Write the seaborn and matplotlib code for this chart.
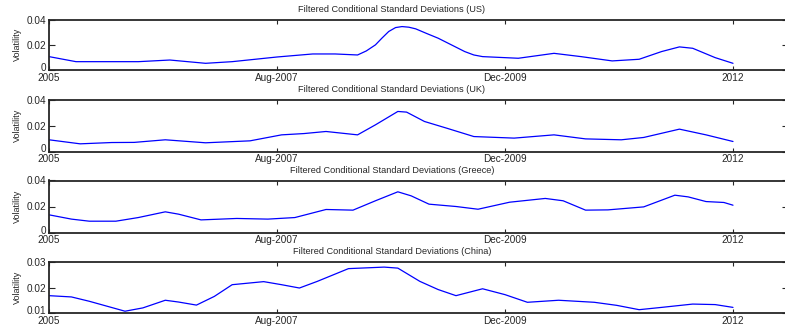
import numpy as np
import pandas as pd
import matplotlib
matplotlib.use("Agg")
import matplotlib.pyplot as plt
import matplotlib.transforms as mtransforms
import seaborn as sns

# x positions are observation indices; ticks every 600 obs
tick_pos = [0, 600, 1200, 1800]
tick_labels = ["2005", "Aug-2007", "Dec-2009", "2012"]

us_x = [0, 71, 165, 235, 318, 412, 482, 600, 694, 753, 812, 835, 859, 876, 894, 912, 929, 947, 965, 994, 1024,
        1059, 1094, 1118, 1141, 1235, 1329, 1400, 1482, 1553, 1612, 1659, 1694, 1753, 1800]
us_y = [0.0106, 0.0066, 0.0066, 0.0066, 0.0079, 0.0053, 0.0066, 0.0103, 0.0127, 0.0127, 0.0119, 0.0151,
        0.0199, 0.0252, 0.0305, 0.0336, 0.0344, 0.0339, 0.0326, 0.0289, 0.0252, 0.0199, 0.0146, 0.0119,
        0.0106, 0.0093, 0.0132, 0.0106, 0.0072, 0.0085, 0.0146, 0.0183, 0.0172, 0.0098, 0.0053]

uk_x = [0, 82, 165, 224, 306, 412, 529, 612, 671, 729, 812, 859, 918, 941, 988, 1047, 1118, 1224, 1329, 1412, 1506, 1565, 1659, 1729, 1800]
uk_y = [0.0090, 0.0059, 0.0069, 0.0070, 0.0090, 0.0067, 0.0082, 0.0128, 0.0138, 0.0154, 0.0128, 0.0205,
        0.0308, 0.0303, 0.0231, 0.0179, 0.0115, 0.0103, 0.0128, 0.0097, 0.0090, 0.0108, 0.0172, 0.0128,
        0.0077]

gr_x = [0, 59, 106, 176, 235, 306, 341, 400, 494, 576, 647, 729, 800, 859, 918, 953, 1000, 1071, 1129, 1212,
        1306, 1353, 1412, 1471, 1565, 1647, 1682, 1729, 1776, 1800]
gr_y = [0.0136, 0.0103, 0.0087, 0.0087, 0.0115, 0.0159, 0.0141, 0.0097, 0.0108, 0.0103, 0.0115, 0.0177,
        0.0172, 0.0244, 0.0313, 0.0282, 0.0218, 0.0200, 0.0179, 0.0233, 0.0262, 0.0244, 0.0172, 0.0174,
        0.0197, 0.0287, 0.0274, 0.0238, 0.0231, 0.0210]

cn_x = [0, 59, 106, 200, 247, 306, 341, 388, 435, 482, 565, 612, 659, 706, 788, 882, 918, 976, 1024, 1071,
        1141, 1200, 1259, 1341, 1435, 1494, 1553, 1612, 1694, 1753, 1800]
cn_y = [0.0168, 0.0163, 0.0146, 0.0107, 0.0120, 0.0150, 0.0143, 0.0131, 0.0165, 0.0211, 0.0223, 0.0211,
        0.0198, 0.0224, 0.0274, 0.0280, 0.0276, 0.0224, 0.0192, 0.0168, 0.0195, 0.0172, 0.0142, 0.0150,
        0.0142, 0.0130, 0.0113, 0.0122, 0.0135, 0.0133, 0.0122]

panels = [
    ("US", us_x, us_y, [0, 0.02, 0.04], ["0", "0.02", "0.04"]),
    ("UK", uk_x, uk_y, [0, 0.02, 0.04], ["0", "0.02", "0.04"]),
    ("Greece", gr_x, gr_y, [0, 0.02, 0.04], ["0", "0.02", "0.04"]),
    ("China", cn_x, cn_y, [0.01, 0.02, 0.03], ["0.01", "0.02", "0.03"]),
]

sns.set_style("ticks")
plt.rcParams["font.family"] = ["Liberation Sans", "DejaVu Sans"]
plt.rcParams["xtick.direction"] = "in"
plt.rcParams["ytick.direction"] = "in"

W, H = 785, 330
fig = plt.figure(figsize=(W / 100, H / 100), dpi=100)

# axes boxes in pixels: (top, bottom)
boxes = [(19.5, 70), (99.5, 151.5), (180.5, 232.5), (262, 313)]
left_px, right_px = 49, 788
xmax = (right_px - left_px) / (733 - 49) * 1800
nudge = mtransforms.ScaledTranslation(0, 3 / 100, fig.dpi_scale_trans)

for (name, xs, ys, yt, ytl), (top, bot) in zip(panels, boxes):
    ax = fig.add_axes([left_px / W, 1 - bot / H, (right_px - left_px) / W, (bot - top) / H])
    df = pd.DataFrame({"obs": xs, "vol": ys})
    sns.lineplot(data=df, x="obs", y="vol", ax=ax, color="#0000ff", linewidth=0.9)
    ax.set_xlim(0, xmax)
    ax.set_ylim(yt[0], yt[-1])
    ax.set_xticks(tick_pos)
    ax.set_xticklabels(tick_labels, fontsize=7.2)
    ax.set_yticks(yt)
    ax.set_yticklabels(ytl, fontsize=7.2)
    ax.tick_params(axis="x", top=True, bottom=True, length=3, width=0.8, pad=2)
    ax.tick_params(axis="y", left=True, right=True, length=4, width=0.8, pad=2)
    # lift the lowest y label a bit so it doesn't sit on the first x label
    lowest = ax.get_yticklabels()[0]
    lowest.set_transform(lowest.get_transform() + nudge)
    ax.set_xlabel("")
    ax.set_ylabel("Volatility", fontsize=6.5, labelpad=3)
    for s in ax.spines.values():
        s.set_linewidth(1.3)
    fig.text(392 / W, 1 - (top - 10) / H, f"Filtered Conditional Standard Deviations ({name})",
             ha="center", va="center", fontsize=6.6)

fig.savefig("out.png", dpi=100)
